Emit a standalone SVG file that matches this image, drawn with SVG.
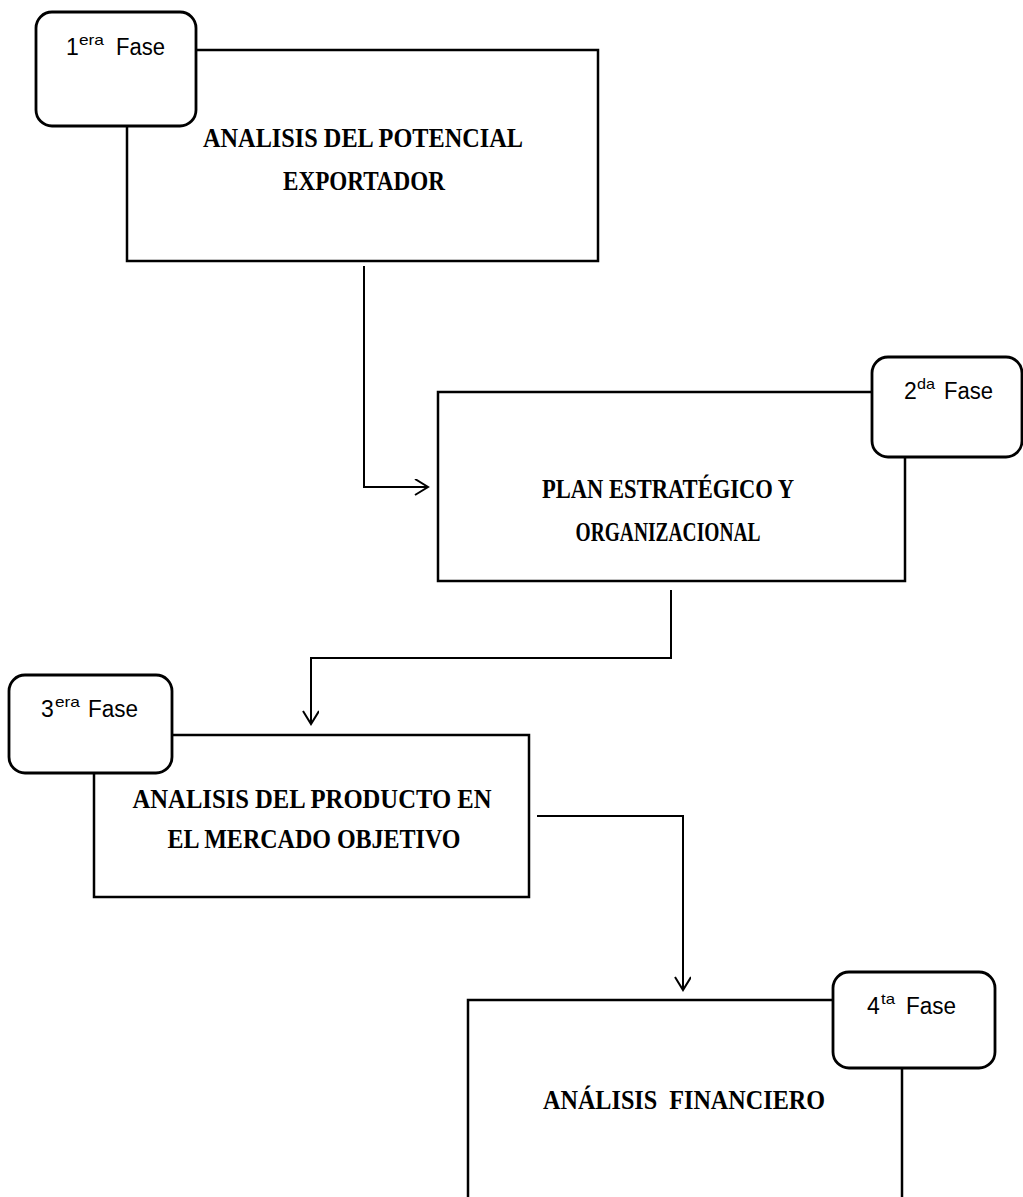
<svg xmlns="http://www.w3.org/2000/svg" width="1023" height="1197" viewBox="0 0 1023 1197">
<style>
.box{fill:#fff;stroke:#000;stroke-width:2.5}
.ph{fill:#fff;stroke:#000;stroke-width:2.8}
.conn{fill:none;stroke:#000;stroke-width:2}
.t{font-family:"Liberation Serif","Times New Roman",serif;font-weight:bold;font-size:27px;text-anchor:middle;fill:#000}
.f{font-family:"Liberation Sans",Arial,sans-serif;font-size:23px;fill:#000}
.sup{font-family:"Liberation Sans",Arial,sans-serif;font-size:15px;fill:#000}
</style>
<defs>
<marker id="arr" markerWidth="20" markerHeight="20" refX="16" refY="8" orient="auto" markerUnits="userSpaceOnUse">
<path d="M3,0 L16,8 L3,16" fill="none" stroke="#000" stroke-width="2"/>
</marker>
</defs>
<rect width="1023" height="1197" fill="#fff"/>
<g id="connectors">
<path class="conn" d="M364,266 V487 H428" marker-end="url(#arr)"/>
<path class="conn" d="M671,590 V658 H311 V724" marker-end="url(#arr)"/>
<path class="conn" d="M537,816 H683 V990" marker-end="url(#arr)"/>
</g>
<g id="fase1">
<rect class="box" x="127" y="50" width="471" height="211"/>
<rect class="ph" x="36" y="12" width="160" height="114" rx="16"/>
<text class="f" x="66" y="55">1</text>
<text class="sup" x="79" y="45" textLength="25" lengthAdjust="spacingAndGlyphs">era</text>
<text class="f" x="116" y="55" textLength="49" lengthAdjust="spacingAndGlyphs">Fase</text>
<text class="t" x="363" y="147" textLength="320" lengthAdjust="spacingAndGlyphs">ANALISIS DEL POTENCIAL</text>
<text class="t" x="364" y="190" textLength="162" lengthAdjust="spacingAndGlyphs">EXPORTADOR</text>
</g>
<g id="fase2">
<rect class="box" x="438" y="392" width="467" height="189"/>
<rect class="ph" x="872" y="357" width="150" height="100" rx="16"/>
<text class="f" x="904" y="399">2</text>
<text class="sup" x="917" y="389" textLength="18" lengthAdjust="spacingAndGlyphs">da</text>
<text class="f" x="944" y="399" textLength="49" lengthAdjust="spacingAndGlyphs">Fase</text>
<text class="t" x="668" y="498" textLength="252" lengthAdjust="spacingAndGlyphs">PLAN ESTRATÉGICO Y</text>
<text class="t" x="668" y="541" textLength="185" lengthAdjust="spacingAndGlyphs">ORGANIZACIONAL</text>
</g>
<g id="fase3">
<rect class="box" x="94" y="735" width="435" height="162"/>
<rect class="ph" x="9" y="675" width="163" height="98" rx="16"/>
<text class="f" x="41" y="717">3</text>
<text class="sup" x="55" y="707" textLength="25" lengthAdjust="spacingAndGlyphs">era</text>
<text class="f" x="88" y="717" textLength="50" lengthAdjust="spacingAndGlyphs">Fase</text>
<text class="t" x="312" y="808" textLength="359" lengthAdjust="spacingAndGlyphs">ANALISIS DEL PRODUCTO EN</text>
<text class="t" x="314" y="848" textLength="293" lengthAdjust="spacingAndGlyphs">EL MERCADO OBJETIVO</text>
</g>
<g id="fase4">
<rect class="box" x="468" y="1000" width="434" height="220"/>
<rect class="ph" x="833" y="972" width="162" height="96" rx="16"/>
<text class="f" x="867" y="1014">4</text>
<text class="sup" x="881" y="1004" textLength="14" lengthAdjust="spacingAndGlyphs">ta</text>
<text class="f" x="906" y="1014" textLength="50" lengthAdjust="spacingAndGlyphs">Fase</text>
<text class="t" x="684" y="1109" textLength="282" lengthAdjust="spacingAndGlyphs">ANÁLISIS&#160; FINANCIERO</text>
</g>
</svg>
